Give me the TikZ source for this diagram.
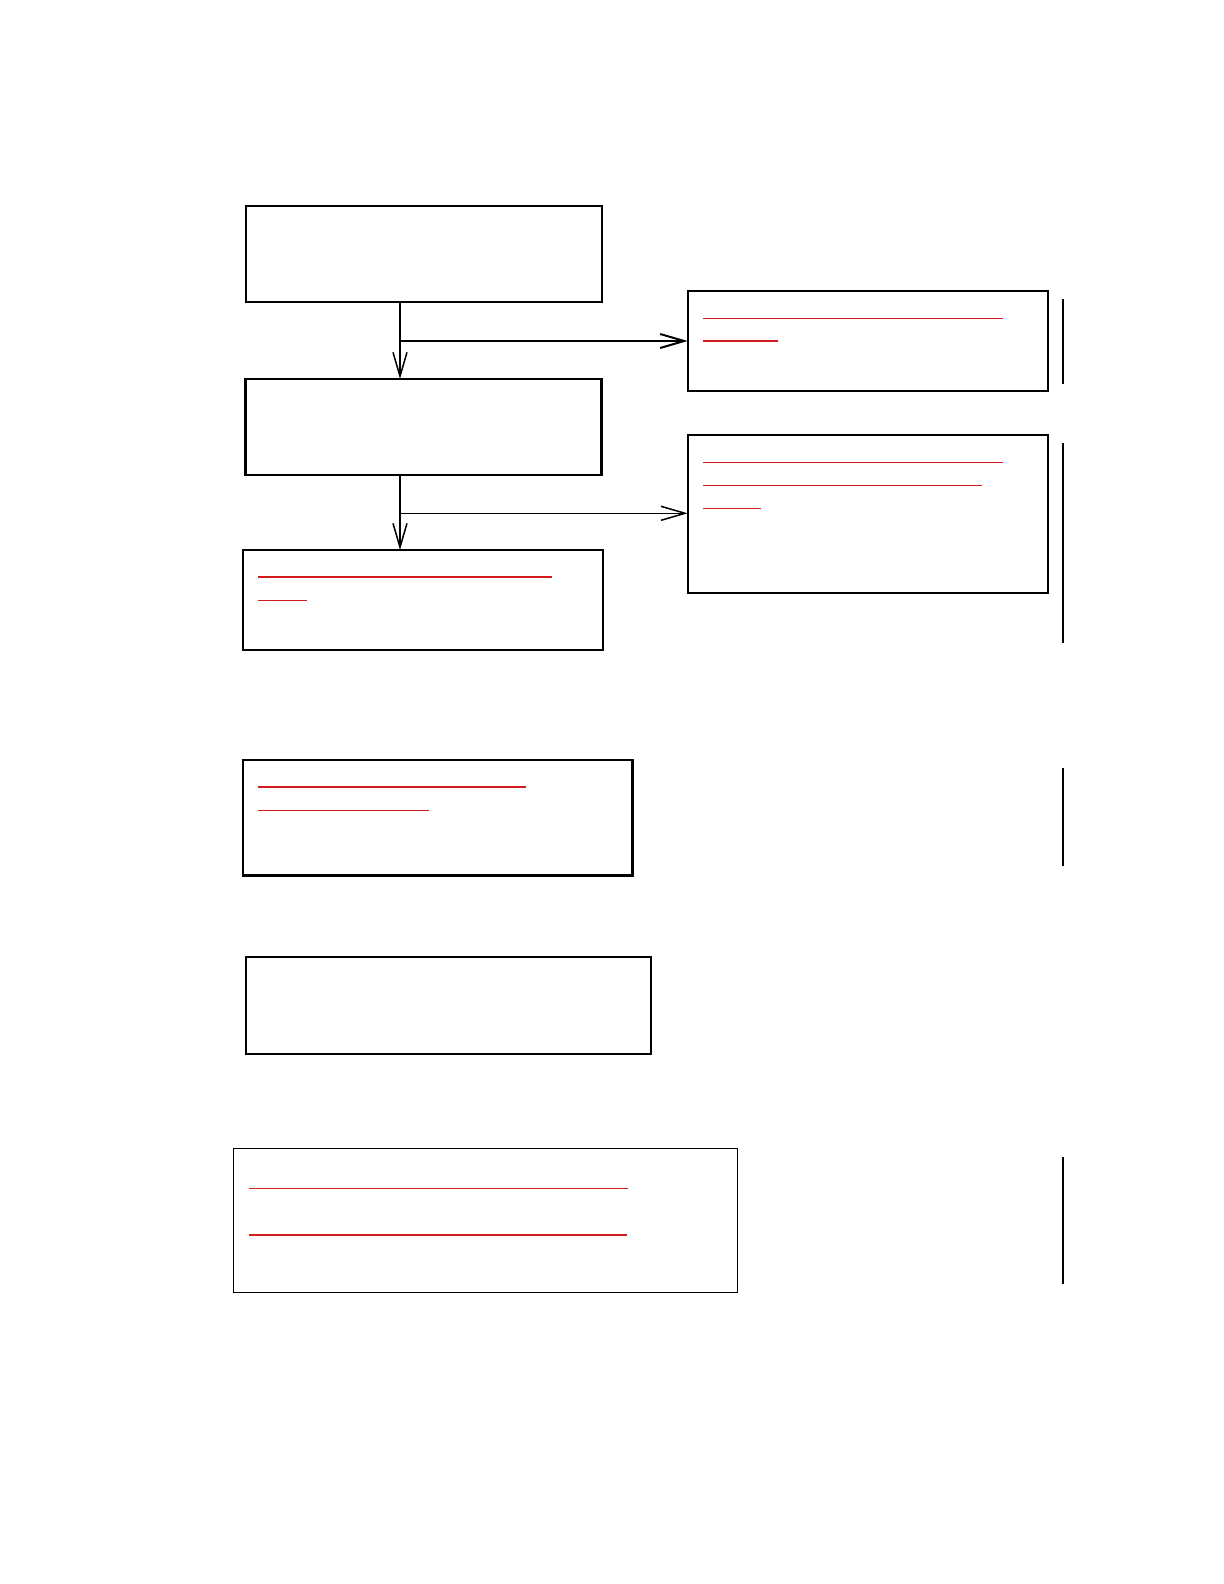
\documentclass[tikz,border=0pt]{standalone}
\usetikzlibrary{arrows.meta,fit}
\definecolor{redline}{RGB}{212,28,28}
\tikzset{
  box/.style={draw=black, line width=1bp, inner sep=0pt, outer sep=0pt},
  thinbox/.style={draw=black, line width=0.75bp, inner sep=0pt, outer sep=0pt},
  uline/.style={draw=redline, line width=0.65bp},
  bar/.style={draw=black, line width=1.25bp},
  arr/.style={draw=black, line width=0.75bp, -{Straight Barb[length=12bp,width=7bp]}}
}
\begin{document}
\begin{tikzpicture}[x=0.5bp,y=-0.5bp]
\useasboundingbox (0,0) rectangle (1224,1584);
% left column boxes
\node[box, fit={(245.7,206) (601.7,302.3)}] (b1) {};
\node[box, line width=1.3bp, fit={(245.7,379) (601.7,475)}] (b2) {};
\node[box, fit={(242.7,550) (603,650)}] (b3) {};
\node[box, line width=1.2bp, fit={(242.7,760) (632.3,875.3)}] (b4) {};
\node[box, fit={(246,957) (651.3,1054)}] (b5) {};
\node[thinbox, fit={(233.3,1148.7) (737.3,1292.3)}] (b6) {};
% right column boxes
\node[box, fit={(687.7,290.7) (1048,391)}] (r1) {};
\node[box, fit={(687.7,434.7) (1048,593)}] (r2) {};
% junctions
\coordinate (j1) at (400,341);
\coordinate (j2) at (400,513.3);
% connectors
\draw[arr] (b1.south -| j1) -- (b2.north -| j1);
\draw[arr, line width=1bp] (j1) -- (r1.west |- j1);
\draw[arr] (b2.south -| j2) -- (b3.north -| j2);
\draw[arr] (j2) -- (r2.west |- j2);
% red lines
\draw[uline] (703,318.3) -- (1002.7,318.3);
\draw[uline] (703,341) -- (777.7,341);
\draw[uline] (703,462.3) -- (1002.7,462.3);
\draw[uline] (703,485.3) -- (981.7,485.3);
\draw[uline] (703,508.3) -- (760.7,508.3);
\draw[uline] (258,577) -- (551.7,577);
\draw[uline] (258,600.3) -- (307,600.3);
\draw[uline] (258,787) -- (525.7,787);
\draw[uline] (258,810.3) -- (428.7,810.3);
\draw[uline] (249,1188.3) -- (627.7,1188.3);
\draw[uline] (249,1235) -- (626.7,1235);
% right bars
\draw[bar] (1063,299) -- (1063,384);
\draw[bar] (1063,443) -- (1063,643);
\draw[bar] (1063,768) -- (1063,866);
\draw[bar] (1063,1157) -- (1063,1284);
\end{tikzpicture}
\end{document}
